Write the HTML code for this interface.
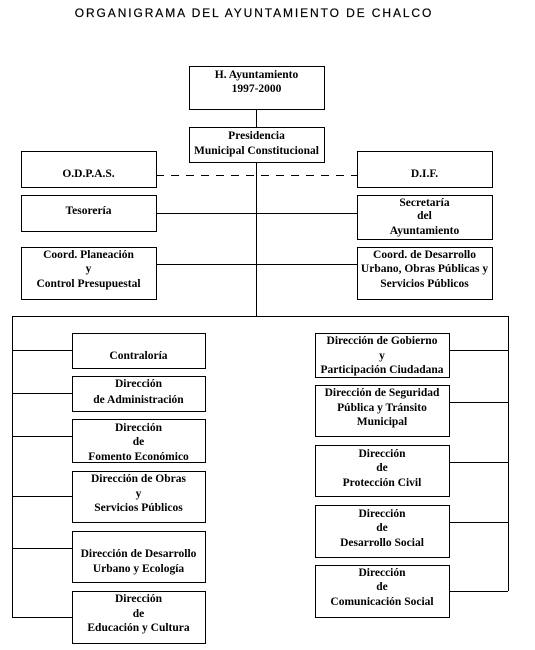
<!DOCTYPE html>
<html><head><meta charset="utf-8"><style>
body{margin:0;background:#fff}
svg{display:block}
.t{font-family:"Liberation Serif",serif;font-weight:bold;font-size:11.5px;text-anchor:middle;fill:#000}
.h{font-family:"Liberation Sans",sans-serif;font-size:12px;letter-spacing:1.9px;text-anchor:middle;fill:#000;stroke:#000;stroke-width:0.2}
rect{fill:#fff;stroke:#000;stroke-width:1}
line{stroke:#000;stroke-width:1}
</style></head><body>
<svg width="535" height="650" viewBox="0 0 535 650" xmlns="http://www.w3.org/2000/svg">
<text class="h" x="254" y="17">ORGANIGRAMA DEL AYUNTAMIENTO DE CHALCO</text>
<line x1="256.5" y1="109" x2="256.5" y2="127"/>
<line x1="256.5" y1="160" x2="256.5" y2="316"/>
<line x1="156" y1="175.5" x2="357" y2="175.5" stroke-dasharray="8,7"/>
<line x1="156" y1="213.5" x2="357" y2="213.5"/>
<line x1="156" y1="264.5" x2="357" y2="264.5"/>
<line x1="12" y1="316.5" x2="508" y2="316.5"/>
<line x1="12.5" y1="316" x2="12.5" y2="617"/>
<line x1="508.5" y1="316" x2="508.5" y2="591"/>
<line x1="12" y1="350.5" x2="72" y2="350.5"/>
<line x1="12" y1="393.5" x2="72" y2="393.5"/>
<line x1="12" y1="436.5" x2="72" y2="436.5"/>
<line x1="12" y1="496.5" x2="72" y2="496.5"/>
<line x1="12" y1="548.5" x2="72" y2="548.5"/>
<line x1="12" y1="617.5" x2="72" y2="617.5"/>
<line x1="449" y1="350.5" x2="508" y2="350.5"/>
<line x1="449" y1="402.5" x2="508" y2="402.5"/>
<line x1="449" y1="462.5" x2="508" y2="462.5"/>
<line x1="449" y1="522.5" x2="508" y2="522.5"/>
<line x1="449" y1="591.5" x2="508" y2="591.5"/>
<rect x="189.5" y="66.5" width="135" height="43"/>
<text class="t" x="256.5" y="78">H. Ayuntamiento</text><text class="t" x="256.5" y="92">1997-2000</text>
<rect x="189.5" y="127.5" width="135" height="35"/>
<text class="t" x="256.5" y="139">Presidencia</text><text class="t" x="256.5" y="154">Municipal Constitucional</text>
<rect x="21.5" y="151.5" width="135" height="36"/>
<text class="t" x="88.5" y="177">O.D.P.A.S.</text>
<rect x="357.5" y="151.5" width="135" height="36"/>
<text class="t" x="424.5" y="177">D.I.F.</text>
<rect x="21.5" y="195.5" width="135" height="36"/>
<text class="t" x="88.5" y="214">Tesorería</text>
<rect x="357.5" y="195.5" width="135" height="44"/>
<text class="t" x="424.5" y="206">Secretaría</text><text class="t" x="424.5" y="219">del</text><text class="t" x="424.5" y="234">Ayuntamiento</text>
<rect x="21.5" y="247.5" width="135" height="52"/>
<text class="t" x="88.5" y="258">Coord. Planeación</text><text class="t" x="88.5" y="272">y</text><text class="t" x="88.5" y="287">Control Presupuestal</text>
<rect x="357.5" y="247.5" width="135" height="52"/>
<text class="t" x="424.5" y="258">Coord. de Desarrollo</text><text class="t" x="424.5" y="272">Urbano, Obras Públicas y</text><text class="t" x="424.5" y="287">Servicios Públicos</text>
<rect x="72.5" y="333.5" width="133" height="35"/>
<text class="t" x="138.5" y="359">Contraloría</text>
<rect x="72.5" y="376.5" width="133" height="35"/>
<text class="t" x="138.5" y="387">Dirección</text><text class="t" x="138.5" y="403">de Administración</text>
<rect x="72.5" y="419.5" width="133" height="43"/>
<text class="t" x="138.5" y="431">Dirección</text><text class="t" x="138.5" y="445">de</text><text class="t" x="138.5" y="460">Fomento Económico</text>
<rect x="72.5" y="471.5" width="133" height="51"/>
<text class="t" x="138.5" y="482">Dirección de Obras</text><text class="t" x="138.5" y="497">y</text><text class="t" x="138.5" y="511">Servicios Públicos</text>
<rect x="72.5" y="531.5" width="133" height="51"/>
<text class="t" x="138.5" y="557">Dirección de Desarrollo</text><text class="t" x="138.5" y="572">Urbano y Ecología</text>
<rect x="72.5" y="591.5" width="133" height="52"/>
<text class="t" x="138.5" y="602">Dirección</text><text class="t" x="138.5" y="617">de</text><text class="t" x="138.5" y="631">Educación y Cultura</text>
<rect x="315.5" y="333.5" width="134" height="44"/>
<text class="t" x="382" y="344">Dirección de Gobierno</text><text class="t" x="382" y="359">y</text><text class="t" x="382" y="373">Participación Ciudadana</text>
<rect x="315.5" y="385.5" width="134" height="51"/>
<text class="t" x="382" y="396">Dirección de Seguridad</text><text class="t" x="382" y="411">Pública y Tránsito</text><text class="t" x="382" y="425">Municipal</text>
<rect x="315.5" y="445.5" width="134" height="51"/>
<text class="t" x="382" y="457">Dirección</text><text class="t" x="382" y="471">de</text><text class="t" x="382" y="486">Protección Civil</text>
<rect x="315.5" y="505.5" width="134" height="52"/>
<text class="t" x="382" y="517">Dirección</text><text class="t" x="382" y="531">de</text><text class="t" x="382" y="546">Desarrollo Social</text>
<rect x="315.5" y="565.5" width="134" height="52"/>
<text class="t" x="382" y="576">Dirección</text><text class="t" x="382" y="590">de</text><text class="t" x="382" y="605">Comunicación Social</text>
</svg>
</body></html>
